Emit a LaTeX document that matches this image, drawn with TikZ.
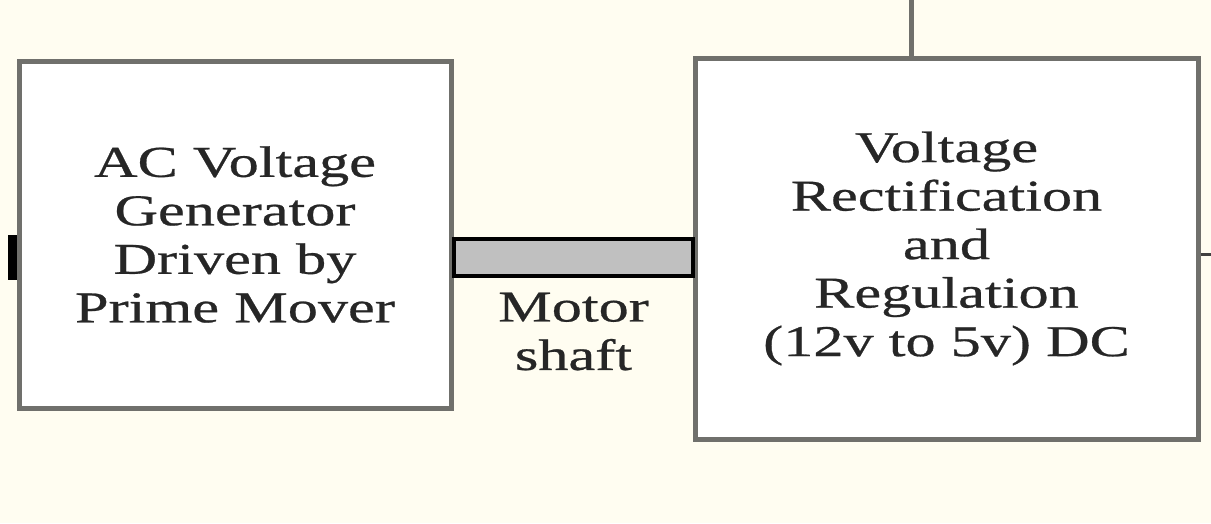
\documentclass[tikz,border=0pt]{standalone}
\usepackage{fontspec}
\newfontfamily\widefont[FakeStretch=1.37,FakeBold=0.6]{Liberation Serif}
\definecolor{bgcream}{RGB}{255,253,241}
\definecolor{boxline}{RGB}{112,112,108}
\definecolor{shaftfill}{RGB}{192,192,192}
\tikzset{
  blocktext/.style={font={\fontsize{44}{48.5}\selectfont\widefont}, align=center, text=black!85},
  blockbox/.style={draw=boxline, line width=5pt, fill=white, rectangle, inner sep=0pt, blocktext},
  shaftbox/.style={draw=black, line width=3.5pt, fill=shaftfill, rectangle, inner sep=0pt},
  wire/.style={draw=boxline, line width=5pt},
  thinwire/.style={draw=black!75, line width=3pt}
}
\begin{document}
\begin{tikzpicture}[x=1pt,y=-1pt]
\fill[bgcream] (0,0) rectangle (1211,523);
\useasboundingbox (0,0) rectangle (1211,523);
% stub on the left
\node[fill=black, rectangle, inner sep=0pt, minimum width=11pt, minimum height=45pt] (stub) at (13.5,257.5) {};
% boxes
\node[blockbox, minimum width=432pt, minimum height=347pt] (lbox) at (235,234.5)
  {AC Voltage\\Generator\\Driven by\\Prime Mover};
\node[blockbox, minimum width=503pt, minimum height=381pt] (rbox) at (946.5,248.5)
  {Voltage\\Rectification\\and\\Regulation\\(12v to 5v) DC};
% shaft
\node[shaftbox, minimum width=239pt, minimum height=37pt] (shaft) at (573.5,257.5) {};
\node[blocktext, inner sep=0pt] (shaftlabel) at (573.5,331.5) {Motor\\shaft};
% connectors
\coordinate (topend) at (911,0);
\draw[wire] (topend) -- (topend |- rbox.north);
\coordinate (rightend) at (1211,254);
\draw[thinwire] (rightend -| rbox.east) -- (rightend);
\end{tikzpicture}
\end{document}
